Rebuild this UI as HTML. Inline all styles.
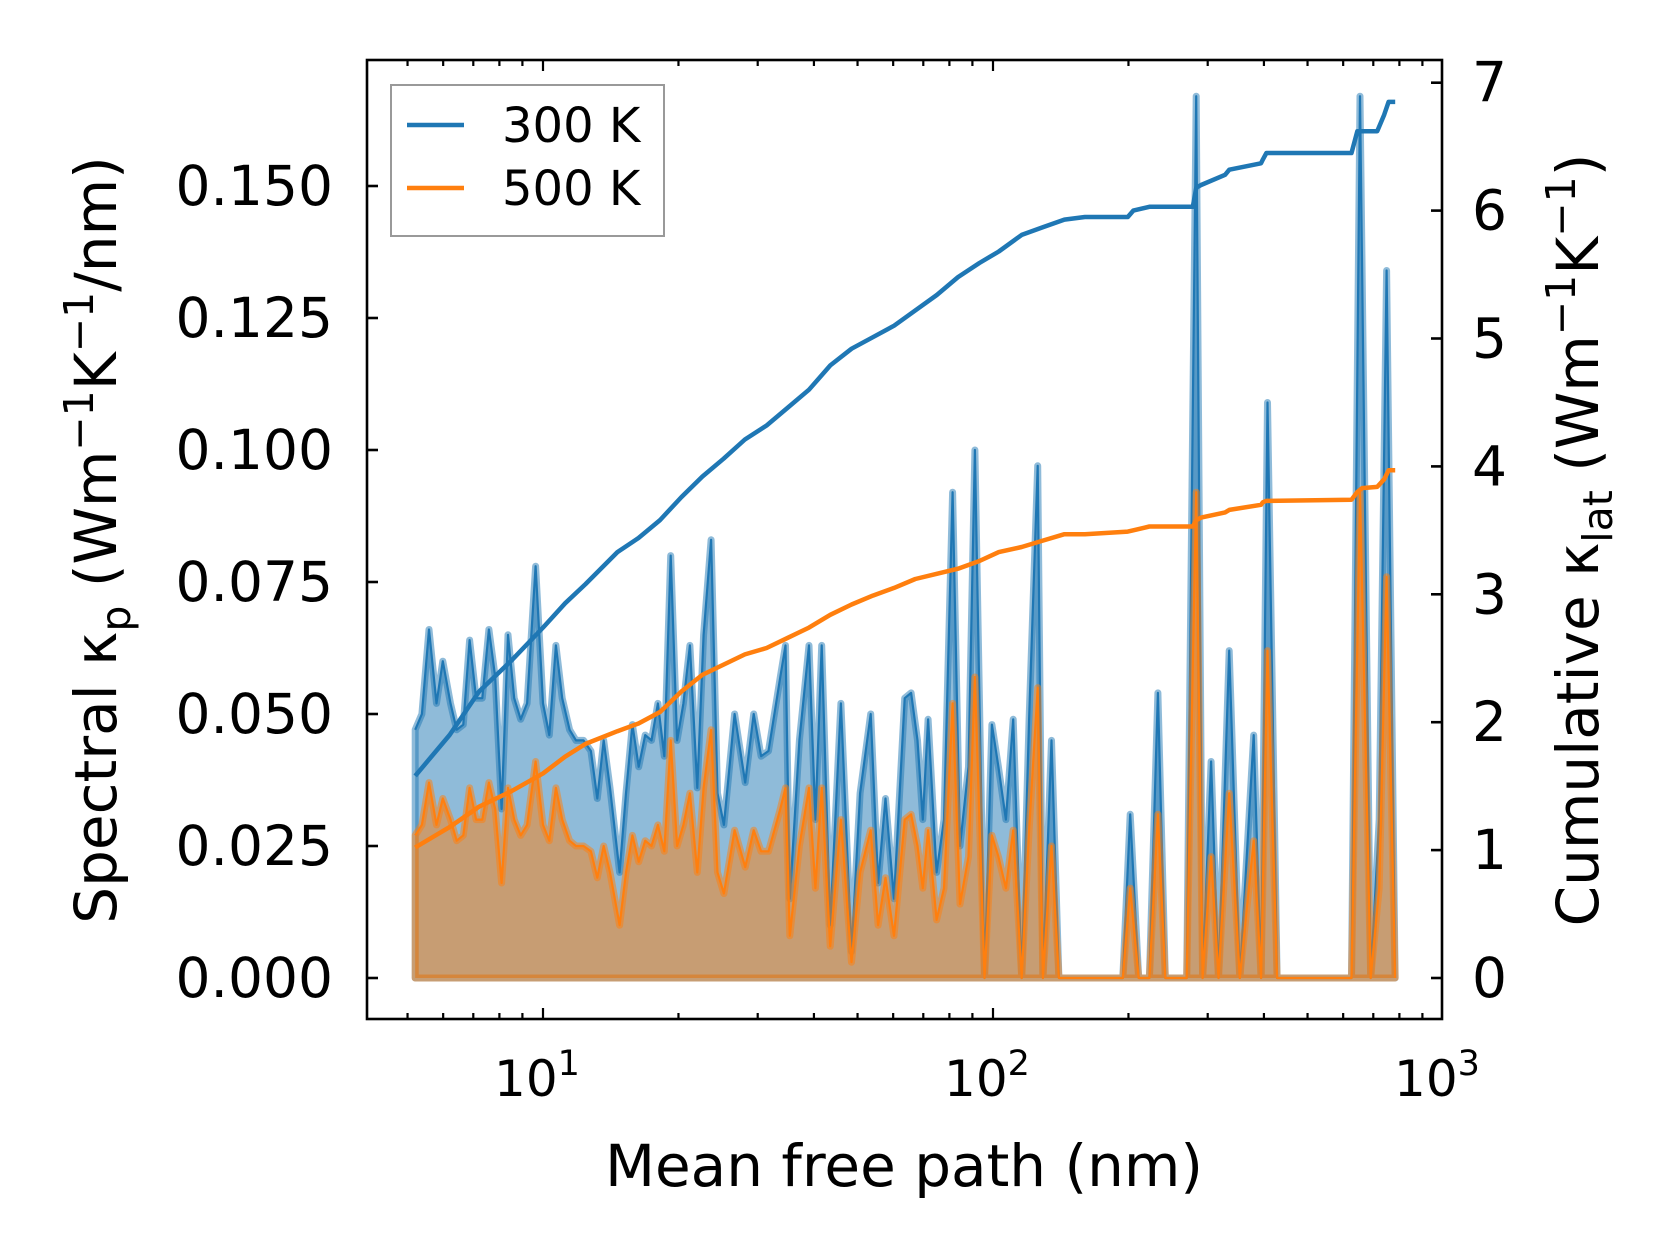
<!DOCTYPE html>
<html><head><meta charset="utf-8"><style>
html,body{margin:0;padding:0;background:#fff;}
svg{display:block;font-family:"DejaVu Sans","Liberation Sans",sans-serif;}
</style></head><body>
<svg id="chart" width="1660" height="1254" viewBox="0 0 1660 1254" xmlns="http://www.w3.org/2000/svg">
<g id="marks"></g>
<g id="axes"></g>
<text x="904" y="1186" text-anchor="middle" font-size="58">Mean free path (nm)</text>
<text transform="translate(116,540) rotate(-90)" text-anchor="middle" font-size="58">Spectral κ<tspan dy="14" font-size="41">p</tspan><tspan dy="-14"> (Wm</tspan><tspan dy="-23" font-size="41">−1</tspan><tspan dy="23">K</tspan><tspan dy="-23" font-size="41">−1</tspan><tspan dy="23">/nm)</tspan></text>
<text transform="translate(1598,540) rotate(-90)" text-anchor="middle" font-size="58">Cumulative κ<tspan dy="14" font-size="41">lat</tspan><tspan dy="-14"> (Wm</tspan><tspan dy="-23" font-size="41">−1</tspan><tspan dy="23">K</tspan><tspan dy="-23" font-size="41">−1</tspan><tspan dy="23">)</tspan></text>
<g>
<rect x="391" y="85" width="273" height="151" fill="#fff" fill-opacity="0.8" stroke="#999" stroke-width="2"/>
<line x1="407" x2="464" y1="125" y2="125" stroke="#1f77b4" stroke-width="4.5"/>
<text x="502" y="142" font-size="48">300 K</text>
<line x1="407" x2="464" y1="188" y2="188" stroke="#ff7f0e" stroke-width="4.5"/>
<text x="502" y="205" font-size="48">500 K</text>
</g>
</svg>
<script>
const mfp = [5.20,5.38,5.58,5.80,5.99,6.23,6.43,6.65,6.87,7.10,7.33,7.58,7.83,8.09,8.36,8.63,8.92,9.22,9.63,10.0,10.33,10.68,11.03,11.46,11.84,12.30,12.78,13.20,13.64,14.09,14.80,15.29,15.80,16.32,16.87,17.42,18.00,18.60,19.22,19.86,20.51,21.20,22.02,22.75,23.63,24.42,25.23,26.65,28.14,29.39,30.52,31.71,33.67,34.59,35.36,37.13,39.00,40.30,41.63,43.48,45.91,48.49,50.65,53.48,55.55,57.70,60.27,63.65,65.77,67.95,69.82,71.75,74.93,77.84,81.31,84.47,88.22,91.16,95.74,99.45,102.8,106.8,110.9,115.8,120.3,125.7,129.1,134.9,140.1,152.1,194.3,201.8,210.8,222.6,232.5,241.5,269.4,282.8,292.2,305.2,317.1,334.8,353.6,379.6,394.3,407.4,427.9,626.2,654.1,690.6,721.4,749.4,782.8];
const spec300 = [.047,.050,.066,.052,.060,.052,.047,.048,.064,.053,.053,.066,.057,.032,.065,.053,.049,.052,.078,.052,.046,.063,.053,.047,.045,.045,.043,.034,.045,.036,.020,.035,.048,.040,.046,.045,.052,.042,.080,.045,.052,.063,.036,.065,.083,.035,.029,.050,.037,.050,.042,.043,.057,.063,.015,.045,.063,.030,.063,.010,.052,.005,.035,.050,.018,.034,.015,.053,.054,.045,.030,.049,.020,.030,.092,.025,.040,.100,0,.048,.040,.030,.049,0,.049,.097,0,.045,0,0,0,.031,0,0,.054,0,0,.167,0,.041,0,.062,0,.046,0,.109,0,0,.167,0,.030,.134,0];
const spec500 = [.027,.029,.037,.029,.034,.030,.026,.027,.036,.030,.030,.037,.032,.018,.036,.030,.027,.029,.041,.029,.026,.036,.030,.026,.025,.025,.024,.019,.025,.020,.010,.020,.027,.022,.026,.025,.029,.024,.045,.025,.029,.035,.020,.036,.047,.020,.016,.028,.021,.028,.024,.024,.032,.036,.008,.025,.036,.017,.036,.006,.030,.003,.020,.028,.010,.019,.008,.030,.031,.025,.017,.028,.011,.017,.052,.014,.023,.057,0,.027,.023,.017,.028,0,.028,.055,0,.025,0,0,0,.017,0,0,.031,0,0,.092,0,.023,0,.035,0,.026,0,.062,0,0,.092,0,.017,.076,0];
const cumX = [5.20,6.2,7.21,8.5,10.0,11.2,12.43,14.63,16.3,18.2,20.3,22.6,25.2,28.1,31.4,35.0,39.0,43.5,48.5,54.1,60.3,67.2,75.0,83.6,93.3,103,115.8,129,144.1,160,199.3,205,222.6,278,283,290,328,335,394,398,405,626,645,661,714,740,757,783];
const cum300 = [1.58,1.90,2.24,2.48,2.74,2.93,3.08,3.33,3.44,3.58,3.76,3.92,4.06,4.21,4.32,4.46,4.60,4.79,4.92,5.01,5.10,5.22,5.34,5.48,5.59,5.68,5.81,5.87,5.93,5.95,5.95,6.00,6.03,6.03,6.18,6.20,6.28,6.32,6.37,6.40,6.45,6.45,6.62,6.62,6.62,6.75,6.85,6.85];
const cum500 = [1.02,1.18,1.34,1.46,1.60,1.73,1.83,1.93,1.99,2.08,2.24,2.37,2.45,2.53,2.58,2.66,2.74,2.84,2.92,2.99,3.05,3.12,3.16,3.20,3.26,3.33,3.37,3.42,3.47,3.47,3.49,3.50,3.53,3.53,3.58,3.60,3.64,3.66,3.70,3.72,3.73,3.74,3.80,3.83,3.84,3.90,3.97,3.97];
const leftTicks = [0,0.025,0.05,0.075,0.1,0.125,0.15];
const leftTickLabels = ["0.000","0.025","0.050","0.075","0.100","0.125","0.150"];
const rightTicks = [0,1,2,3,4,5,6,7];
const xMajor = [10,100,1000];
const xMajorExp = ["1","2","3"];

const L=367,R=1442,T=60,B=1019;
const xs = v => 543 + (Math.log10(v)-1)*450;
const yl = v => 978 - v/0.025*132;
const yr = v => 978 - v*127.9;
const NS="http://www.w3.org/2000/svg";
const marks=document.getElementById('marks'), axes=document.getElementById('axes');
function mk(tag, attrs, parent){const e=document.createElementNS(NS,tag);for(const k in attrs)e.setAttribute(k,attrs[k]);parent.appendChild(e);return e;}

function spectral(vals,color,name){
  let top = mfp.map((m,i)=>xs(m).toFixed(1)+','+yl(vals[i]).toFixed(1));
  const poly = 'M'+xs(mfp[0]).toFixed(1)+','+yl(0)+' L'+top.join(' L')+' L'+xs(mfp[mfp.length-1]).toFixed(1)+','+yl(0)+' Z';
  const f=mk('path',{d:poly,fill:color,'fill-opacity':0.5,stroke:color,'stroke-opacity':0.5,'stroke-width':7,'stroke-linejoin':'round'},marks);
  
  
  const l=mk('polyline',{points:top.join(' '),fill:'none',stroke:color,'stroke-width':2.2,'stroke-linejoin':'round'},marks);
  
  
}
spectral(spec300,'#1f77b4','spectral-300k');
spectral(spec500,'#ff7f0e','spectral-500k');
function cum(vals,color,name){
  const p=cumX.map((m,i)=>xs(m).toFixed(1)+','+yr(vals[i]).toFixed(1)).join(' ');
  const l=mk('polyline',{points:p,fill:'none',stroke:color,'stroke-width':4.5,'stroke-linejoin':'round'},marks);
  
  
}
cum(cum300,'#1f77b4','cumulative-300k');
cum(cum500,'#ff7f0e','cumulative-500k');

const fr=mk('rect',{x:L,y:T,width:R-L,height:B-T,fill:'none',stroke:'#000','stroke-width':2.6},axes);


leftTicks.forEach((v,i)=>{
  const y=yl(v);
  mk('line',{x1:L,x2:L+11,y1:y,y2:y,stroke:'#000','stroke-width':2.6},axes);
  const t=mk('text',{x:333,y:y+19,'text-anchor':'end','font-size':55},axes);
  t.textContent=leftTickLabels[i];
  
  
});
rightTicks.forEach(v=>{
  const y=yr(v);
  mk('line',{x1:R-11,x2:R,y1:y,y2:y,stroke:'#000','stroke-width':2.6},axes);
  const t=mk('text',{x:1472,y:y+19,'font-size':55},axes);
  t.textContent=String(v);
  
  
});
for(let d=1;d<=1000;d*=10){
  for(let k=1;k<10;k++){
    const v=d*k, x=xs(v);
    if(x<L||x>R) continue;
    const len = k===1?11:6;
    mk('line',{x1:x,x2:x,y1:B,y2:B-len,stroke:'#000','stroke-width':2.2},axes);
    mk('line',{x1:x,x2:x,y1:T,y2:T+len,stroke:'#000','stroke-width':2.2},axes);
  }
}
xMajor.forEach((v,i)=>{
  const t=mk('text',{x:xs(v)-6,y:1096,'text-anchor':'middle','font-size':50},axes);
  
  
  t.textContent='10';
  const s=mk('tspan',{dy:-21,'font-size':35},t); s.textContent=xMajorExp[i];
});
</script>
</body></html>
